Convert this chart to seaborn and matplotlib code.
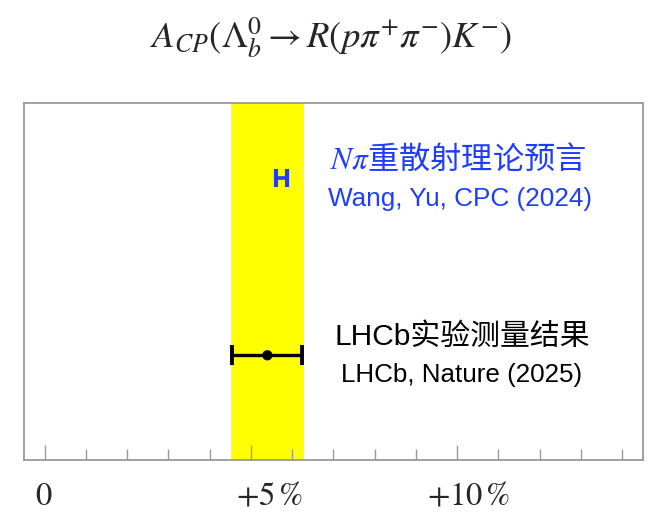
import numpy as np
import matplotlib
matplotlib.use("Agg")
import matplotlib.pyplot as plt
import matplotlib.transforms as mtransforms
from matplotlib.ticker import MultipleLocator
import seaborn as sns
import pandas as pd

# data (A_CP in %)
labels = ["theory", "lhcb"]
central = [5.74, 5.40]
err = [0.14, 0.85]
row_y = [0.79, 0.293]
band = [4.52, 6.29]          # LHCb 1 sigma band
tick_vals = [0, 5, 10]
tick_text = ["$0$", "$+5\\,\\%$", "$+10\\,\\%$"]

df = pd.DataFrame({"label": labels, "acp": central, "err": err, "y": row_y})

sns.set_theme(style="white")
plt.rcParams["mathtext.fontset"] = "stix"
plt.rcParams["font.family"] = ["Liberation Sans", "Noto Sans CJK SC", "DejaVu Sans"]

fig = plt.figure(figsize=(6.63, 5.23), dpi=100)
ax = fig.add_axes([0.0362, 0.1205, 0.9332, 0.6832])

blue = "#1f3dff"
gray = "#999999"

# yellow band
ax.axvspan(band[0], band[1], color="#ffff00", lw=0, zorder=0)

# theory point (tiny error bar)
th = df[df.label == "theory"]
ax.errorbar(th.acp, th.y, xerr=th.err, fmt="none", ecolor=blue,
            elinewidth=2.6, capsize=6.5, capthick=3.0, zorder=3)

# measurement
ex = df[df.label == "lhcb"]
ax.errorbar(ex.acp, ex.y, xerr=ex.err, fmt="none", ecolor="black",
            elinewidth=2.4, capsize=7.2, capthick=2.8, zorder=3)
sns.scatterplot(data=ex, x="acp", y="y", color="black", s=55,
                edgecolor="none", ax=ax, zorder=4)

ax.set_xlim(-0.5, 14.5)
ax.set_ylim(0, 1)
ax.set_xlabel("")
ax.set_ylabel("")
ax.set_yticks([])

ax.xaxis.set_minor_locator(MultipleLocator(1))
ax.set_xticks(tick_vals)
ax.set_xticklabels(tick_text, fontsize=23.5)
ax.tick_params(axis="x", which="major", direction="in", length=11, width=1.0,
               color=gray, pad=15, bottom=True)
ax.tick_params(axis="x", which="minor", direction="in", length=8, width=1.0,
               color=gray, bottom=True)
# shift +5% / +10% labels a bit right like the original
for lab, dx in zip(ax.get_xticklabels(), [-1, 19, 12]):
    lab.set_transform(lab.get_transform() +
                      mtransforms.ScaledTranslation(dx / 100, 0, fig.dpi_scale_trans))

for s in ax.spines.values():
    s.set_color(gray)
    s.set_linewidth(1.3)

# annotations
fig.text(458 / 663, 1 - 160 / 523, "$N\\pi$重散射理论预言", color=blue,
         fontsize=22.5, ha="center", va="center",
         family=["Noto Sans CJK SC", "DejaVu Sans"])
fig.text(460 / 663, 1 - 199 / 523, "Wang, Yu, CPC (2024)", color=blue,
         fontsize=18.8, ha="center", va="center", family=["Liberation Sans"])
fig.text(462 / 663, 1 - 337 / 523, "LHCb实验测量结果", color="black",
         fontsize=21.5, ha="center", va="center",
         family=["Liberation Sans", "Noto Sans CJK SC"])
fig.text(462 / 663, 1 - 375 / 523, "LHCb, Nature (2025)", color="black",
         fontsize=18.7, ha="center", va="center", family=["Liberation Sans"])

fig.text(331 / 663, 1 - 38 / 523,
         "$A_{CP}(\\Lambda_b^0 \\rightarrow R(p\\pi^{+}\\pi^{-})K^{-})$",
         fontsize=26.5, ha="center", va="center")

fig.savefig("out.png", dpi=100)
